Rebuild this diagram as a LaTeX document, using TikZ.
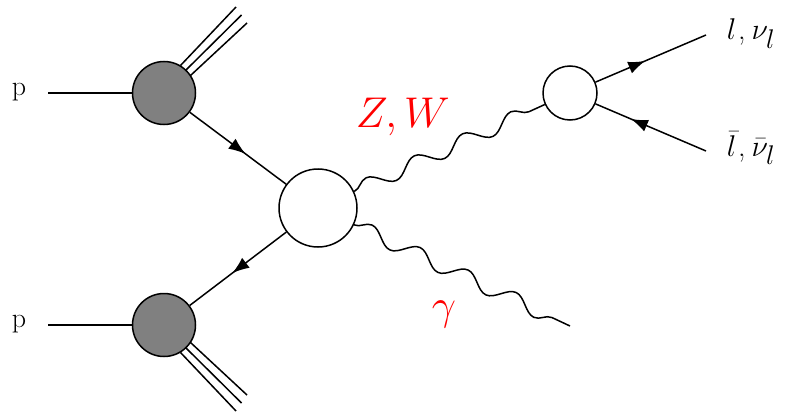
\RequirePackage{fix-cm}
\documentclass[tikz,border=0pt]{standalone}
\usetikzlibrary{decorations.pathmorphing,decorations.markings,arrows.meta}
\DeclareMathSizes{30}{30}{27}{22}
\tikzset{
  blob/.style={circle,draw,line width=1.5pt,inner sep=0pt},
  pdf/.style={blob,fill=black!50,minimum size=63pt},
  hard/.style={blob,fill=white,minimum size=78pt},
  decay/.style={blob,fill=white,minimum size=54pt},
  fermion/.style={postaction={decorate},decoration={markings,
     mark=at position #1 with {\arrow{Latex[length=17pt,width=12.5pt]}}}},
  boson/.style={decorate,decoration={snake,amplitude=7.5pt,segment length=53pt}},
  lbl/.style={font=\fontsize{30}{34}\selectfont,inner sep=0pt},
  plbl/.style={font=\fontsize{28}{32}\selectfont},
  red lbl/.style={text=red,font=\fontsize{43}{48}\selectfont,inner sep=0pt},
}
\begin{document}
\begin{tikzpicture}[x=1pt,y=-1pt,line width=1.5pt]
\useasboundingbox (0,0) rectangle (790,412);
% blobs
\node[pdf] (a) at (164,93) {};
\node[pdf] (b) at (164,325) {};
\node[hard] (c) at (318,208) {};
\node[decay] (d) at (570,93) {};
% incoming protons
\node[plbl] (p1) at (19,92) {p};
\node[plbl] (p2) at (19,324) {p};
\coordinate (pa) at (48,93);
\coordinate (pb) at (48,325);
\draw (pa) -- (a);
\draw (pb) -- (b);
% remnants
\coordinate (a1s) at (180.5,65.5); \coordinate (a1e) at (236,7);
\coordinate (a2s) at (185.5,70.5); \coordinate (a2e) at (241.5,15);
\coordinate (a3s) at (190.5,75.5); \coordinate (a3e) at (247,23);
\draw (a1s) -- (a1e); \draw (a2s) -- (a2e); \draw (a3s) -- (a3e);
\coordinate (b1s) at (180.5,352.5); \coordinate (b1e) at (236,411);
\coordinate (b2s) at (185.5,347.5); \coordinate (b2e) at (241.5,403);
\coordinate (b3s) at (190.5,342.5); \coordinate (b3e) at (247,395);
\draw (b1s) -- (b1e); \draw (b2s) -- (b2e); \draw (b3s) -- (b3e);
% partons
\draw[fermion=0.58] (a) -- (c);
\draw[fermion=0.56] (c) -- (b);
% bosons
\coordinate (g) at (570,326);
\draw[boson] (c) -- (d);
\draw[boson] (c) -- (g);
% leptons
\coordinate (l1) at (706,35);
\coordinate (l2) at (706,151);
\draw[fermion=0.45] (d) -- (l1);
\draw[fermion=0.68] (l2) -- (d);
% labels
\node[lbl,anchor=base west] (t1) at (726,40) {$l$\kern2pt,\kern6pt$\nu_l$};
\node[lbl,anchor=base west] (t2) at (726,156) {$\bar l$\kern2pt,\kern6pt$\bar\nu_l$};
\node[red lbl,anchor=base west] (zw) at (355,127) {$Z,W$};
\node[red lbl,anchor=base] (ga) at (444,319) {$\gamma$};
\end{tikzpicture}
\end{document}
